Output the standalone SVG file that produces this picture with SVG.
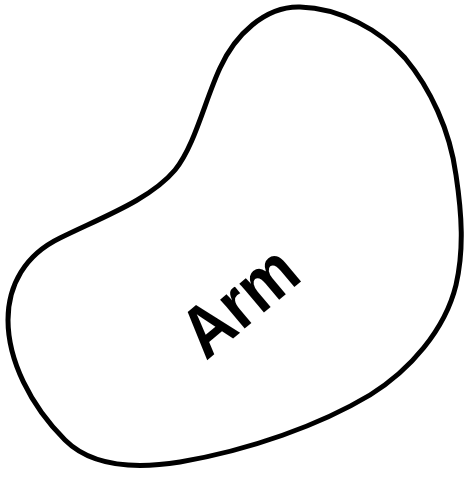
<svg xmlns="http://www.w3.org/2000/svg" width="466" height="477" viewBox="0 0 466 477">
<style>
.blob{fill:#fff;stroke:#000;stroke-width:5;stroke-linejoin:round;stroke-linecap:round}
.lbl{font-family:"Liberation Sans","DejaVu Sans",sans-serif;font-size:72px;font-weight:bold;fill:#000}
</style>
<rect width="466" height="477" fill="#fff"/>
<g id="arm">
<path class="blob" d="M 300 7 C 340 8, 380 30, 405 58 C 430 88, 450 130, 456 175 C 462 215, 464 250, 456 285 C 445 330, 410 370, 370 395 C 320 425, 250 450, 180 462 C 130 470, 90 465, 65 440 C 30 405, 8 360, 8 320 C 8 285, 25 255, 60 238 C 100 218, 150 200, 175 170 C 195 145, 205 100, 220 68 C 235 35, 265 6, 300 7 Z"/>
<text class="lbl" x="255" y="320" text-anchor="middle" textLength="128" lengthAdjust="spacingAndGlyphs" transform="rotate(-40 255 320)">Arm</text>
</g>
</svg>
